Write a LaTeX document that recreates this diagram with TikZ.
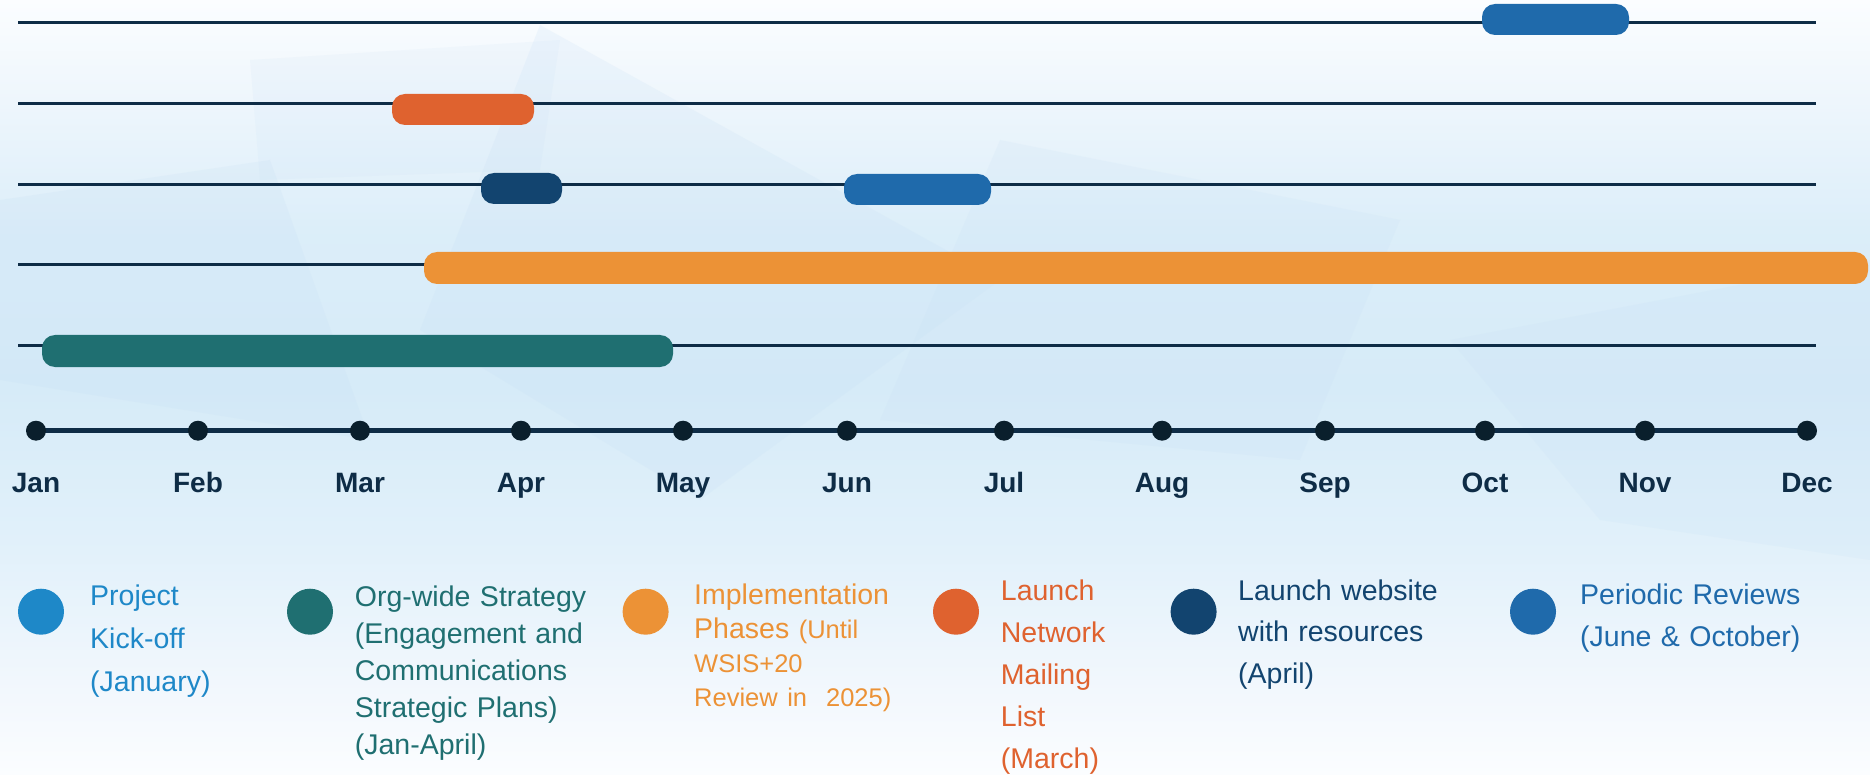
\documentclass[tikz,border=0pt]{standalone}
\usepackage{fontspec}
\setmainfont{Liberation Sans}
\usetikzlibrary{positioning}
\definecolor{kickblue}{HTML}{1E88C8}
\definecolor{stratteal}{HTML}{1F6F71}
\definecolor{implorange}{HTML}{EC9236}
\definecolor{mailred}{HTML}{DF622F}
\definecolor{webnavy}{HTML}{12446F}
\definecolor{reviewblue}{HTML}{1F6AAB}
\definecolor{axisnavy}{HTML}{0E2C46}
\definecolor{dotnavy}{HTML}{0A1F2C}
\definecolor{bgtop}{HTML}{FBFDFF}
\definecolor{bgsoft}{HTML}{EEF6FC}
\definecolor{bgmid}{HTML}{D6EBF8}
\definecolor{bglow}{HTML}{F3F8FD}
\definecolor{poly}{HTML}{C4DDF4}
\pgfdeclareverticalshading{skyshade}{100bp}{color(0bp)=(bgtop); color(25bp)=(bgtop); color(30bp)=(bglow); color(40bp)=(bgmid!70!bgtop); color(50bp)=(bgmid); color(60bp)=(bgmid!85!bgtop); color(68.5bp)=(bgsoft); color(75bp)=(bgtop); color(100bp)=(bgtop)}

\begin{document}
\begin{tikzpicture}[x=1pt,y=-1pt,
  track/.style={draw=axisnavy,line width=3pt},
  axis/.style={draw=axisnavy,line width=4.5pt},
  bar/.style={rounded corners=13pt},
  mdot/.style={circle,fill=dotnavy,inner sep=0pt,minimum size=20pt},
  month/.style={font=\fontsize{28}{30}\selectfont\bfseries,text=axisnavy,anchor=base,inner sep=0pt},
  key/.style={circle,inner sep=0pt,minimum size=46pt},
  keytext/.style={anchor=base west,inner sep=0pt,align=left,text width=#1},
  keytext/.default=320pt]
\useasboundingbox (0,0) rectangle (1870,775);
% background
\shade[shading=skyshade] (0,0) rectangle (1870,775);
\fill[poly,opacity=0.18] (540,25) -- (1000,280) -- (700,500) -- (420,330) -- cycle;
\fill[poly,opacity=0.18] (0,200) -- (270,160) -- (370,440) -- (0,380) -- cycle;
\fill[poly,opacity=0.15] (1000,140) -- (1400,220) -- (1300,460) -- (880,420) -- cycle;
\fill[poly,opacity=0.15] (1450,340) -- (1870,260) -- (1870,560) -- (1600,520) -- cycle;
\fill[poly,opacity=0.12] (250,60) -- (560,40) -- (540,170) -- (260,180) -- cycle;
% tracks
\foreach \r/\y in {1/22.7,2/104,3/184.7,4/265,5/345.7}{
  \coordinate (row\r w) at (18,\y);
  \coordinate (row\r e) at (1816,\y);
  \draw[track] (row\r w) -- (row\r e);
}
% bars
\fill[bar,reviewblue] (1482,4) rectangle (1629,35);
\fill[bar,mailred] (392,94) rectangle (534,125);
\fill[bar,webnavy] (481,173) rectangle (562,204);
\fill[bar,reviewblue] (844,174) rectangle (991,205);
\fill[bar,implorange] (424,252) rectangle (1868,284);
\fill[bar,stratteal] (42,335) rectangle (673,367);
% months
\path (36,430.7) coordinate (jan) (1807,430.7) coordinate (dec);
\draw[axis] (jan) -- (dec);
\foreach \m/\x [count=\i] in {Jan/36,Feb/198,Mar/360,Apr/521,May/683,Jun/847,Jul/1004,Aug/1162,Sep/1325,Oct/1485,Nov/1645,Dec/1807}{
  \node[mdot] (m\i) at (\x,430.7) {};
  \node[month] (l\i) at (\x,492.7) {\m};
}
% legend
\node[key,fill=kickblue] (k1) at (41,611.7) {};
\node[keytext,text=kickblue,font=\fontsize{28.5}{43}\selectfont] (t1) at (90,605) {Project\\Kick-off\\(January)};
\node[key,fill=stratteal] (k2) at (310,611.7) {};
\node[keytext,text=stratteal,font=\fontsize{28.5}{37}\selectfont] (t2) at (354.7,606.7) {Org-wide Strategy\\(Engagement and\\Communications\\Strategic Plans)\\(Jan-April)};
\node[key,fill=implorange] (k3) at (645.6,611.7) {};
\node[keytext,text=implorange,font=\fontsize{28.5}{34}\selectfont] (t3) at (694,604.3) {Implementation\\Phases {\fontsize{25.5}{30}\selectfont(Until}\\{\fontsize{25.5}{30}\selectfont WSIS+20}\\{\fontsize{25.5}{30}\selectfont Review in~~2025)}};
\node[key,fill=mailred] (k4) at (956,611.7) {};
\node[keytext,text=mailred,font=\fontsize{28.5}{42}\selectfont] (t4) at (1000.7,600) {Launch\\Network\\Mailing\\List\\(March)};
\node[key,fill=webnavy] (k5) at (1193.6,611.7) {};
\node[keytext,text=webnavy,font=\fontsize{28.5}{41.7}\selectfont] (t5) at (1238,600) {Launch website\\with resources\\(April)};
\node[key,fill=reviewblue] (k6) at (1533,611.7) {};
\node[keytext,text=reviewblue,font=\fontsize{28.5}{42.5}\selectfont] (t6) at (1580,604.3) {Periodic Reviews\\(June \& October)};
\end{tikzpicture}
\end{document}
